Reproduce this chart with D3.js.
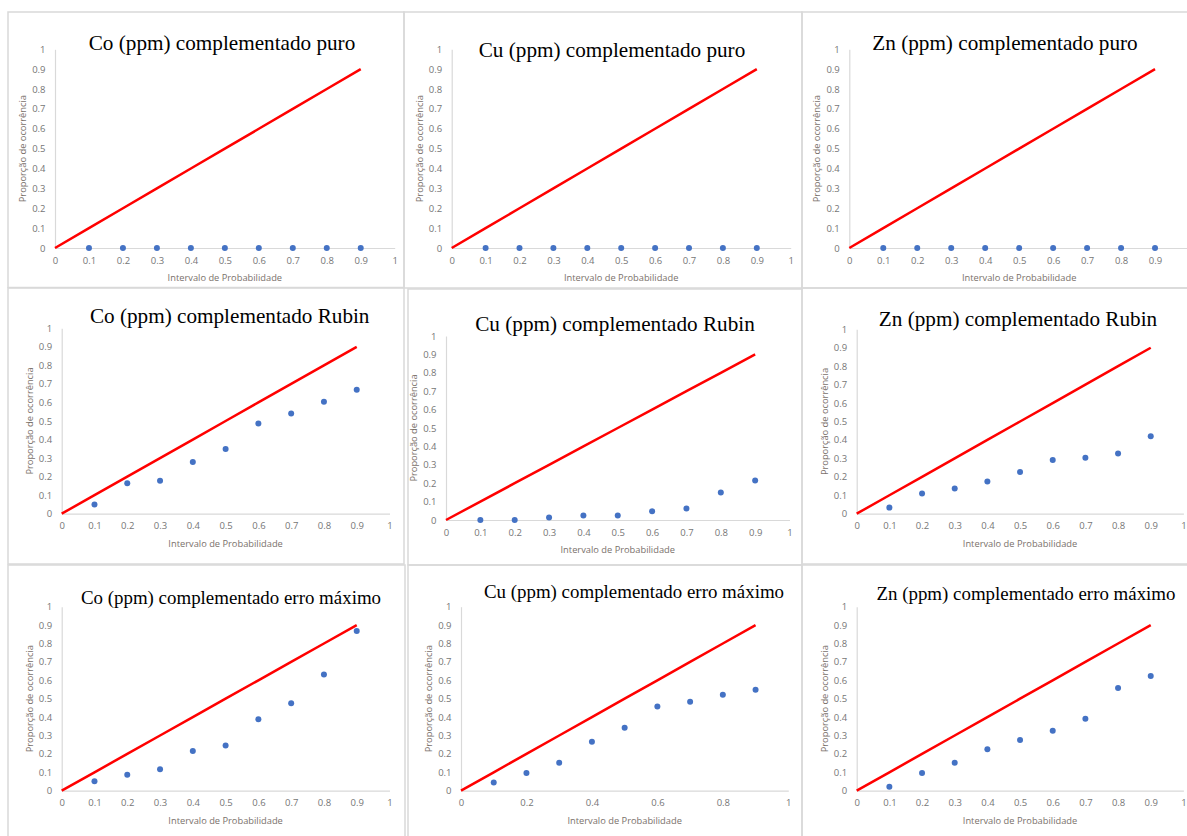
<!DOCTYPE html>
<html>
<head>
<meta charset="utf-8">
<script src="https://cdn.jsdelivr.net/npm/d3@7"></script>
<style>
  body { margin: 0; background: #fff; }
  svg { display: block; }
  .tick text { font-family: "Open Sans", sans-serif; font-size: 9.5px; fill: #767676; }
  .axis-title { font-family: "Open Sans", sans-serif; font-size: 9.3px; fill: #7a716b; }
  .chart-title { font-family: "Liberation Serif", "Times New Roman", serif; fill: #000; }
</style>
</head>
<body>
<div id="chart"></div>
<script>
// probability intervals (x of the blue points)
const probX = [0.1, 0.2, 0.3, 0.4, 0.5, 0.6, 0.7, 0.8, 0.9];
// red reference line: y = x
const refX = [0, 0.1, 0.2, 0.3, 0.4, 0.5, 0.6, 0.7, 0.8, 0.9];
const refY = [0, 0.1, 0.2, 0.3, 0.4, 0.5, 0.6, 0.7, 0.8, 0.9];

const coPuro  = [0, 0, 0, 0, 0, 0, 0, 0, 0];
const cuPuro  = [0, 0, 0, 0, 0, 0, 0, 0, 0];
const znPuro  = [0, 0, 0, 0, 0, 0, 0, 0, 0];
const coRubin = [0.05, 0.164, 0.178, 0.279, 0.349, 0.486, 0.541, 0.604, 0.669];
const cuRubin = [0, 0, 0.013, 0.025, 0.025, 0.047, 0.063, 0.15, 0.214];
const znRubin = [0.033, 0.11, 0.137, 0.175, 0.226, 0.291, 0.304, 0.327, 0.42];
const coErro  = [0.051, 0.087, 0.116, 0.216, 0.245, 0.388, 0.475, 0.632, 0.868];
const cuErro  = [0.045, 0.096, 0.152, 0.266, 0.342, 0.457, 0.484, 0.522, 0.549];
const znErro  = [0.022, 0.096, 0.152, 0.225, 0.275, 0.326, 0.391, 0.558, 0.623];

const titles = [
  "Co (ppm) complementado puro", "Cu (ppm) complementado puro", "Zn (ppm) complementado puro",
  "Co (ppm) complementado Rubin", "Cu (ppm) complementado Rubin", "Zn (ppm) complementado Rubin",
  "Co (ppm) complementado erro máximo", "Cu (ppm) complementado erro máximo", "Zn (ppm) complementado erro máximo"
];
const series = [coPuro, cuPuro, znPuro, coRubin, cuRubin, znRubin, coErro, cuErro, znErro];

const xTicksFine = [0, 0.1, 0.2, 0.3, 0.4, 0.5, 0.6, 0.7, 0.8, 0.9, 1];
const xTicksCoarse = [0, 0.2, 0.4, 0.6, 0.8, 1];
const yTicks = [0, 0.1, 0.2, 0.3, 0.4, 0.5, 0.6, 0.7, 0.8, 0.9, 1];

const xLabel = "Intervalo de Probabilidade";
const yLabel = "Proporção de ocorrência";

// screenshot placement of each pasted chart
const layout = [
  {frame: [8, 12, 396, 275.5],   x0: 55,    x1: 394.7,  y0: 248,   y1: 49.3,  tx: 222,   ty: 50,    ts: 21.2, fine: true},
  {frame: [404, 12, 398, 276],   x0: 451.7, x1: 790.7,  y0: 248,   y1: 49.3,  tx: 612,   ty: 57,    ts: 21.2, fine: true},
  {frame: [802, 12, 390, 276],   x0: 849.3, x1: 1189,   y0: 248,   y1: 49.3,  tx: 1005,  ty: 50,    ts: 21.2, fine: true},
  {frame: [8, 288, 396, 276],    x0: 61.7,  x1: 389.5,  y0: 513.7, y1: 328.3, tx: 229.7, ty: 322.5, ts: 21.2, fine: true},
  {frame: [408, 289, 394, 276],  x0: 446,   x1: 789.5,  y0: 520,   y1: 336,   tx: 615,   ty: 331,   ts: 21.2, fine: true},
  {frame: [802, 288, 390, 276],  x0: 856.7, x1: 1183.4, y0: 513.7, y1: 329.3, tx: 1018,  ty: 326,   ts: 21.2, fine: true},
  {frame: [8, 565, 397, 280],    x0: 61.7,  x1: 389.5,  y0: 790.7, y1: 606.7, tx: 231,   ty: 603.5, ts: 18.9, fine: true},
  {frame: [408, 565, 394, 280],  x0: 461,   x1: 788.3,  y0: 790.7, y1: 606.7, tx: 634,   ty: 597.5, ts: 18.9, fine: false},
  {frame: [802, 565, 390, 280],  x0: 856.7, x1: 1183.4, y0: 790.7, y1: 606.7, tx: 1026,  ty: 600,   ts: 18.9, fine: true}
];

const W = 1187, H = 836;
const svg = d3.select("#chart").append("svg").attr("width", W).attr("height", H);

const fmt = d => d3.format("")(+d.toFixed(1));

layout.forEach(function(p, i) {
  const g = svg.append("g");

  g.append("rect")
    .attr("x", p.frame[0]).attr("y", p.frame[1])
    .attr("width", p.frame[2]).attr("height", p.frame[3])
    .attr("fill", "none").attr("stroke", "#d9d9d9").attr("stroke-width", 1.5);

  const x = d3.scaleLinear().domain([0, 1]).range([p.x0, p.x1]);
  const y = d3.scaleLinear().domain([0, 1]).range([p.y0, p.y1]);

  g.append("g")
    .attr("transform", "translate(0," + p.y0 + ")")
    .call(d3.axisBottom(x).tickValues(p.fine ? xTicksFine : xTicksCoarse).tickSize(0).tickPadding(9).tickFormat(fmt))
    .call(a => a.select(".domain").attr("stroke", "#d9d9d9").attr("stroke-width", 1.2));

  g.append("g")
    .attr("transform", "translate(" + p.x0 + ",0)")
    .call(d3.axisLeft(y).tickValues(yTicks).tickSize(0).tickPadding(9.5).tickFormat(fmt))
    .call(a => a.select(".domain").attr("stroke", "#d9d9d9").attr("stroke-width", 1.2));

  g.append("text").attr("class", "chart-title")
    .attr("x", p.tx).attr("y", p.ty)
    .attr("text-anchor", "middle")
    .style("font-size", p.ts + "px")
    .text(titles[i]);

  g.append("text").attr("class", "axis-title")
    .attr("x", (p.x0 + p.x1) / 2).attr("y", p.y0 + 33)
    .attr("text-anchor", "middle")
    .text(xLabel);

  g.append("text").attr("class", "axis-title")
    .attr("transform", "translate(" + (p.x0 - 29) + "," + ((p.y0 + p.y1) / 2) + ") rotate(-90)")
    .attr("text-anchor", "middle")
    .text(yLabel);

  const line = d3.line()
    .x(d => x(d[0]))
    .y(d => y(d[1]));

  g.append("path")
    .datum(refX.map((v, k) => [v, refY[k]]))
    .attr("d", line)
    .attr("fill", "none")
    .attr("stroke", "#ff0000")
    .attr("stroke-width", 2.5)
    .attr("stroke-linejoin", "round");

  g.selectAll("circle")
    .data(probX.map((v, k) => [v, series[i][k]]))
    .enter().append("circle")
    .attr("cx", d => x(d[0]))
    .attr("cy", d => y(d[1]))
    .attr("r", 3)
    .attr("fill", "#4472c4");
});
</script>
</body>
</html>
